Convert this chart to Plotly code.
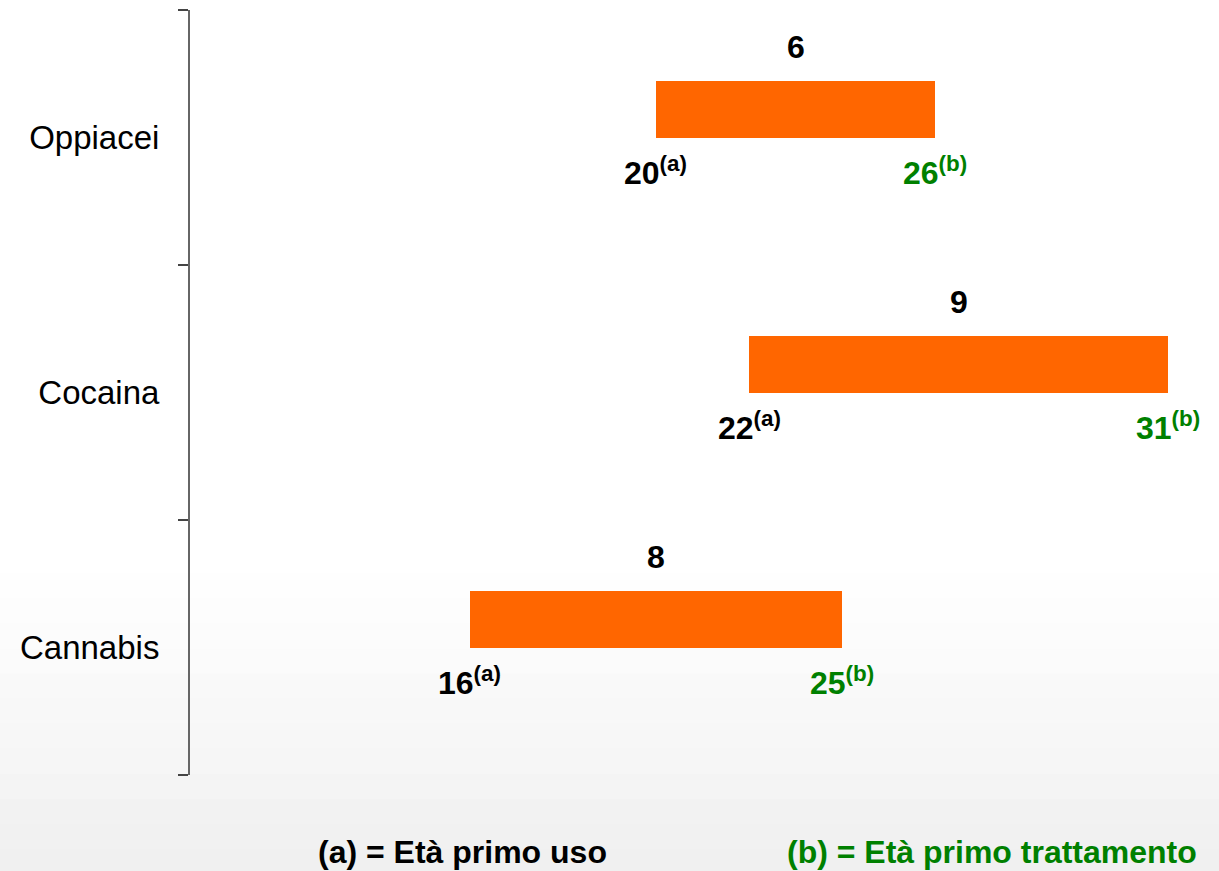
import plotly.graph_objects as go

# Data
categories = ["Cannabis", "Cocaina", "Oppiacei"]
start_age = [16, 22, 20]      # (a) eta primo uso
end_age = [25, 31, 26]        # (b) eta primo trattamento
gap_years = [8, 9, 6]         # bar length / label above bar

ORANGE = "#FF6600"
GREEN = "#008000"
FONT = "Liberation Sans, Arial, sans-serif"
NARROW = "Liberation Sans Narrow, Arial Narrow, Liberation Sans, Arial, sans-serif"

fig = go.Figure()

fig.add_trace(go.Bar(
    y=categories, x=gap_years, base=start_age, orientation="h",
    width=0.22, offset=0,
    marker=dict(color=ORANGE, line=dict(width=0)),
    hoverinfo="skip", showlegend=False,
))

annotations = []
for i, cat in enumerate(categories):
    s = start_age[i]
    e = s + gap_years[i]
    annotations.append(dict(
        x=s + gap_years[i] / 2, y=i + 0.355, xref="x", yref="y",
        text="<b>%d</b>" % gap_years[i], showarrow=False,
        font=dict(size=32, color="black", family=FONT),
    ))
    annotations.append(dict(
        x=s, y=i - 0.13, xref="x", yref="y",
        text="<b>%d<sup>(a)</sup></b>" % start_age[i], showarrow=False,
        font=dict(size=32, color="black", family=FONT),
    ))
    annotations.append(dict(
        x=e, y=i - 0.13, xref="x", yref="y",
        text="<b>%d<sup>(b)</sup></b>" % end_age[i], showarrow=False,
        font=dict(size=32, color=GREEN, family=FONT),
    ))

# footnotes at the bottom
annotations.append(dict(
    x=0.266, y=-0.101, xref="paper", yref="paper", showarrow=False,
    xanchor="center", yanchor="middle",
    text="<b>(a) = Età primo uso</b>",
    font=dict(size=32, color="black", family=NARROW),
))
annotations.append(dict(
    x=0.782, y=-0.101, xref="paper", yref="paper", showarrow=False,
    xanchor="center", yanchor="middle",
    text="<b>(b) = Età primo trattamento</b>",
    font=dict(size=32, color=GREEN, family=NARROW),
))

# light grey gradient in the lower part of the background
shapes = []
n = 14
top, bottom = 0.33, -0.13
for k in range(n):
    y0 = top - (top - bottom) * k / n
    g = int(255 - (255 - 234) * (k + 1) / n)
    shapes.append(dict(
        type="rect", xref="paper", yref="paper",
        x0=-0.2, x1=1.01, y0=bottom, y1=y0,
        fillcolor="rgba(%d,%d,%d,0.16)" % (g, g, g), line=dict(width=0),
        layer="below",
    ))

fig.update_layout(
    width=1219, height=871,
    margin=dict(l=190, r=4, t=10, b=96),
    paper_bgcolor="white", plot_bgcolor="rgba(0,0,0,0)",
    font=dict(family=FONT, size=24, color="black"),
    xaxis=dict(range=[10, 32], visible=False, fixedrange=True),
    yaxis=dict(
        type="category", categoryorder="array", categoryarray=categories,
        range=[-0.5, 2.5],
        showline=True, linecolor="#666666", linewidth=2,
        ticks="outside", tickson="boundaries", ticklen=10,
        tickcolor="#444444", tickwidth=2,
        showgrid=False, zeroline=False,
        ticklabelstandoff=22,
        tickfont=dict(size=33, family=FONT, color="black"),
    ),
    annotations=annotations,
    shapes=shapes,
    bargap=0,
)

fig.write_html("out.html", config={"displayModeBar": False},
               post_script="document.body.style.margin='0';")
